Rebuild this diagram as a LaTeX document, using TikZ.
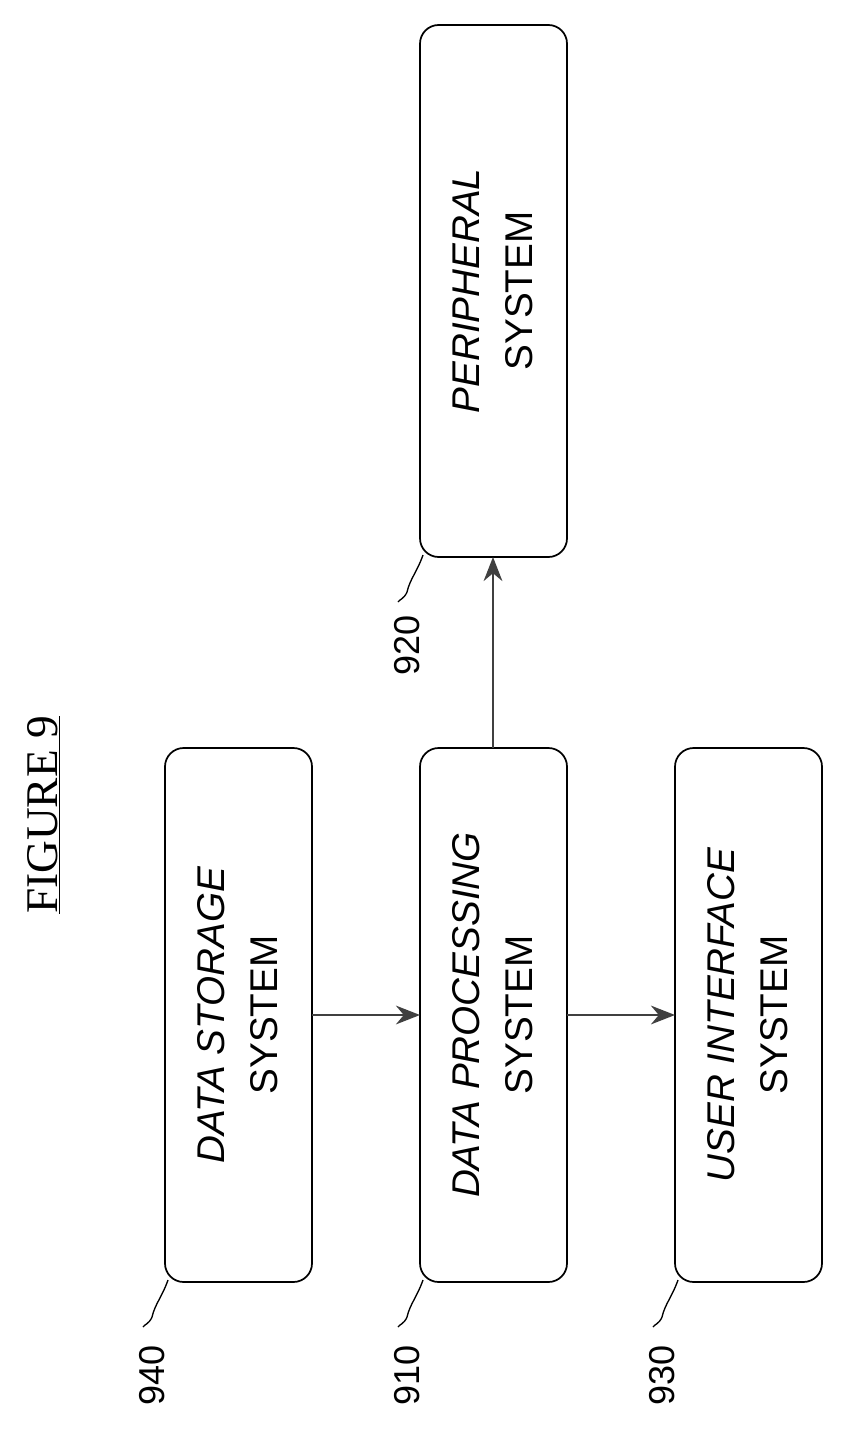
\documentclass[tikz,border=0pt]{standalone}
\usepackage{fontspec}
\setsansfont{Liberation Sans}
\setmainfont{Liberation Serif}
\usetikzlibrary{arrows.meta}
\begin{document}
\begin{tikzpicture}[x=0.75pt,y=-0.75pt,
  blk/.style={draw,line width=1.3pt,rounded corners=14pt},
  txt/.style={rotate=90,align=center,font=\sffamily\fontsize{29}{40}\selectfont},
  lbl/.style={rotate=90,font=\sffamily\fontsize{27}{30}\selectfont},
  arr/.style={line width=2pt,draw=black!75,-{Stealth[length=18pt,width=14pt]}},
  ld/.style={line width=1pt}]
\useasboundingbox (0,0) rectangle (844,1445);
\node[rotate=90,font=\rmfamily\fontsize{34}{36}\selectfont] (fig) at (44,815) {\underline{FIGURE 9}};
\draw[blk] (165,748) rectangle (312,1282);
\node[txt] (ds) at (238,1015) {\textit{DATA STORAGE}\\SYSTEM};
\draw[blk] (420,748) rectangle (567,1282);
\node[txt] (dp) at (493,1015) {\textit{DATA PROCESSING}\\SYSTEM};
\draw[blk] (675,748) rectangle (822,1282);
\node[txt] (ui) at (748,1015) {\textit{USER INTERFACE}\\SYSTEM};
\draw[blk] (420,25) rectangle (567,557);
\node[txt] (ps) at (493,291) {\textit{PERIPHERAL}\\SYSTEM};
\coordinate (a1) at (312,1015); \coordinate (a2) at (420,1015);
\coordinate (b1) at (567,1015); \coordinate (b2) at (675,1015);
\coordinate (c1) at (493,748); \coordinate (c2) at (493,557);
\draw[arr] (a1) -- (a2);
\draw[arr] (b1) -- (b2);
\draw[arr] (c1) -- (c2);
\node[lbl] (l940) at (152,1375) {940};
\node[lbl] (l910) at (407,1375) {910};
\node[lbl] (l930) at (662,1375) {930};
\node[lbl] (l920) at (407,645) {920};
\foreach \x/\y in {165/1282,420/1282,675/1282,420/557}{
  \draw[ld] (\x+3,\y-2) .. controls (\x-3,\y+15) and (\x-10,\y+22) .. (\x-13,\y+35)
     .. controls (\x-16,\y+42) and (\x-20,\y+42) .. (\x-22,\y+45);
}
\end{tikzpicture}
\end{document}
